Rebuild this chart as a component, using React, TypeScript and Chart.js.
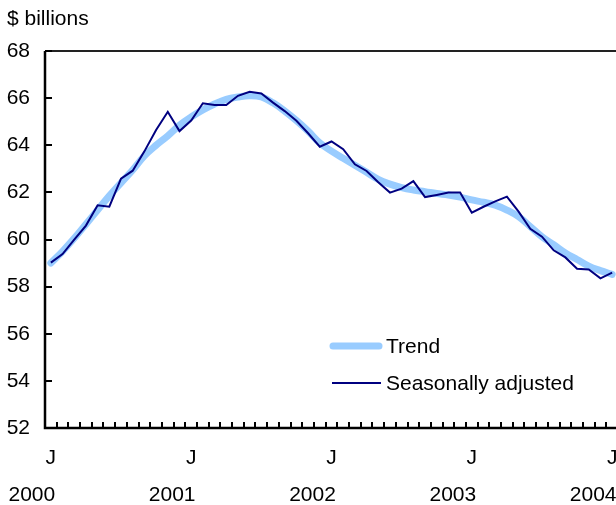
import React, { useEffect, useRef } from "react";
import { Chart, registerables } from "chart.js";

Chart.register(...registerables);

const years = ["2000", "2001", "2002", "2003", "2004"];
const monthInitials = ["J", "F", "M", "A", "M", "J", "J", "A", "S", "O", "N", "D"];
// Jan 2000 .. Jan 2004 (49 months)
const categories: string[] = [];
years.forEach((yr, yi) => {
  monthInitials.forEach((m, mi) => {
    if (yi < years.length - 1 || mi === 0) categories.push(m + " " + yr);
  });
});

const seasonallyAdjusted = [
  59.02, 59.38, 59.99, 60.59, 61.45, 61.39, 62.58, 62.92, 63.74, 64.65, 65.42, 64.6,
  65.05, 65.78, 65.71, 65.71, 66.1, 66.27, 66.2, 65.81, 65.45, 65.04, 64.51, 63.94,
  64.16, 63.83, 63.19, 62.91, 62.43, 61.99, 62.16, 62.48, 61.8, 61.89, 61.99, 61.99,
  61.14, 61.39, 61.62, 61.82, 61.18, 60.45, 60.12, 59.54, 59.24, 58.76, 58.73, 58.35,
  58.59,
];

const trend = [
  59.0, 59.5, 60.05, 60.65, 61.25, 61.85, 62.4, 62.95, 63.55, 64.0, 64.4, 64.85,
  65.2, 65.5, 65.75, 65.95, 66.05, 66.1, 66.05, 65.8, 65.45, 65.05, 64.6, 64.1,
  63.75, 63.45, 63.15, 62.85, 62.55, 62.35, 62.2, 62.1, 62.03, 61.95, 61.89, 61.8,
  61.68, 61.58, 61.46, 61.25, 60.97, 60.55, 60.12, 59.78, 59.43, 59.15, 58.87, 58.68,
  58.52,
];

const yTicks = { min: 52, max: 68, step: 2 };
const unitLabel = "$ billions";
const seriesNames = ["Seasonally adjusted", "Trend"];

const FONT = "Liberation Sans, Arial, sans-serif";
const FS = 21;

const overlay = {
  id: "overlay",
  afterDraw(chart: any) {
    const { ctx, chartArea: a, scales } = chart;
    const x = scales.x;
    const y = scales.y;
    ctx.save();
    // frame
    ctx.strokeStyle = "#000";
    ctx.lineWidth = 2.5;
    ctx.beginPath();
    ctx.moveTo(a.left, a.top);
    ctx.lineTo(a.left, a.bottom);
    ctx.lineTo(a.right + 5, a.bottom);
    ctx.stroke();
    ctx.strokeStyle = "#222";
    ctx.lineWidth = 2;
    ctx.beginPath();
    ctx.moveTo(a.left, a.top);
    ctx.lineTo(a.right + 5, a.top);
    ctx.stroke();

    // y ticks (inside)
    ctx.strokeStyle = "#000";
    ctx.lineWidth = 2;
    y.ticks.forEach((t: any) => {
      const py = Math.round(y.getPixelForValue(t.value));
      ctx.beginPath();
      ctx.moveTo(a.left, py);
      ctx.lineTo(a.left + 7, py);
      ctx.stroke();
    });

    // x ticks at month boundaries (inside)
    const n = categories.length;
    const w = (x.right - x.left) / n;
    ctx.lineWidth = 2;
    for (let k = 1; k <= n; k++) {
      const px = Math.round(x.left + k * w);
      ctx.beginPath();
      ctx.moveTo(px, a.bottom);
      ctx.lineTo(px, a.bottom - 6);
      ctx.stroke();
    }

    // J labels and years
    ctx.fillStyle = "#000";
    ctx.font = `${FS}px ${FONT}`;
    ctx.textAlign = "center";
    ctx.textBaseline = "middle";
    let yi = 0;
    for (let i = 0; i < n; i += 12) {
      const px = x.getPixelForValue(i);
      ctx.fillText("J", px, a.bottom + 30);
      ctx.fillText(years[yi], px - 19, a.bottom + 67);
      yi++;
    }

    // unit label
    ctx.textAlign = "left";
    ctx.fillText(unitLabel, 7, 19);

    // legend
    const lx0 = a.left + 286;
    const lx1 = a.left + 336;
    const ly1 = a.top + 295;
    const ly2 = a.top + 332;
    ctx.lineCap = "round";
    ctx.strokeStyle = "#99CCFF";
    ctx.lineWidth = 7;
    ctx.beginPath();
    ctx.moveTo(lx0 + 2, ly1);
    ctx.lineTo(lx1 - 2, ly1);
    ctx.stroke();
    ctx.lineCap = "butt";
    ctx.strokeStyle = "#000080";
    ctx.lineWidth = 2;
    ctx.beginPath();
    ctx.moveTo(lx0 + 1, ly2);
    ctx.lineTo(lx1, ly2);
    ctx.stroke();
    ctx.fillStyle = "#000";
    ctx.fillText(seriesNames[1], lx1 + 5, ly1 + 1);
    ctx.fillText(seriesNames[0], lx1 + 5, ly2 + 1);
    ctx.restore();
  },
};

export default function App() {
  const ref = useRef<HTMLCanvasElement>(null);
  useEffect(() => {
    if (!ref.current) return;
    const chart = new Chart(ref.current, {
      type: "line",
      data: {
        labels: categories,
        datasets: [
          {
            label: seriesNames[0],
            data: seasonallyAdjusted,
            borderColor: "#000080",
            borderWidth: 2,
            pointRadius: 0,
            tension: 0,
            fill: false,
          },
          {
            label: seriesNames[1],
            data: trend,
            borderColor: "#99CCFF",
            borderWidth: 7,
            pointRadius: 0,
            tension: 0.4,
            borderCapStyle: "round",
            fill: false,
          },
        ],
      },
      options: {
        responsive: false,
        animation: false,
        devicePixelRatio: 1,
        layout: { padding: { top: 51, right: 2, bottom: 0, left: 0 } },
        plugins: { legend: { display: false }, tooltip: { enabled: false } },
        scales: {
          x: {
            type: "category",
            offset: true,
            grid: { display: false, drawTicks: false },
            border: { display: false },
            ticks: { display: false },
            afterFit: (s: any) => {
              s.height = 77;
            },
          },
          y: {
            min: yTicks.min,
            max: yTicks.max,
            grid: { display: false, drawTicks: false },
            border: { display: false },
            ticks: {
              stepSize: yTicks.step,
              padding: 15,
              color: "#000",
              font: { family: FONT, size: FS },
            },
            afterFit: (s: any) => {
              s.width = 45;
            },
          },
        },
      },
      plugins: [overlay],
    });
    return () => chart.destroy();
  }, []);
  return (
    <div
      style={{
        position: "fixed",
        left: 0,
        top: 0,
        width: 616,
        height: 505,
        overflow: "hidden",
        background: "#fff",
      }}
    >
      <canvas ref={ref} width={620} height={505} style={{ width: 620, height: 505, display: "block" }} />
    </div>
  );
}
